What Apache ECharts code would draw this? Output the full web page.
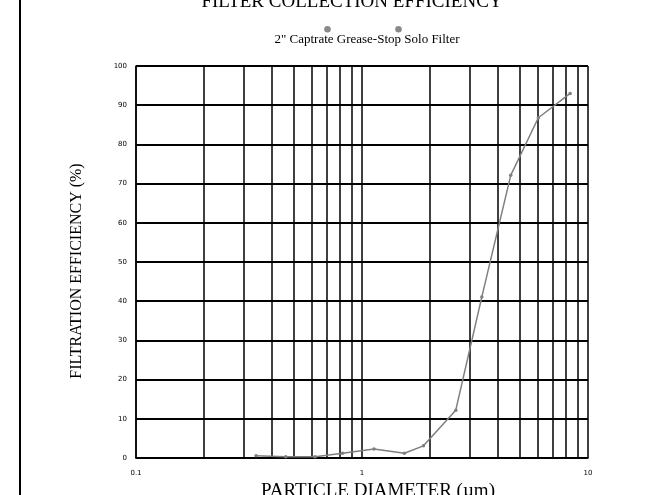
<!DOCTYPE html>
<html>
<head>
<meta charset="utf-8">
<script src="https://cdn.jsdelivr.net/npm/echarts@6/dist/echarts.min.js"></script>
<style>html,body{margin:0;padding:0;background:#fff;}#chart{width:651px;height:495px;}</style>
</head>
<body>
<div id="chart"></div>
<script>
const titleText = 'FILTER COLLECTION EFFICIENCY';
const subtitleText = '2" Captrate Grease-Stop Solo Filter';
const xAxisName = 'PARTICLE DIAMETER (µm)';
const yAxisName = 'FILTRATION EFFICIENCY (%)';
const diameters = [0.34, 0.46, 0.62, 0.82, 1.13, 1.54, 1.87, 2.6, 3.39, 4.55, 6.03, 8.34];
const efficiency = [0.6, 0.3, 0.3, 1.2, 2.3, 1.2, 3.1, 12.2, 41.1, 72.1, 86.8, 93.0];
const minorGridX = [0.2, 0.3, 0.4, 0.5, 0.6, 0.7, 0.8, 0.9, 2, 3, 4, 5, 6, 7, 8, 9];

const serif = '"Liberation Serif", "Times New Roman", serif';
const chart = echarts.init(document.getElementById('chart'), null, {renderer: 'canvas'});
chart.setOption({
  animation: false,
  backgroundColor: '#ffffff',
  title: [
    {text: titleText, left: 347, top: -12, textAlign: 'center',
     textStyle: {fontFamily: serif, fontSize: 19, fontWeight: 'normal', color: '#000'}},
    {text: subtitleText, left: 362, top: 28, textAlign: 'center',
     textStyle: {fontFamily: serif, fontSize: 13, fontWeight: 'normal', color: '#000'}}
  ],
  grid: {left: 136, right: 63, top: 66, bottom: 37, containLabel: false, outerBoundsMode: 'none'},
  xAxis: {
    type: 'log', logBase: 10, min: 0.1, max: 10,
    name: xAxisName, nameLocation: 'middle', nameGap: 20,
    nameTextStyle: {fontFamily: serif, fontSize: 19, color: '#000', padding: [0, 0, 0, 32]},
    axisLine: {show: true, lineStyle: {color: '#000', width: 1.5}},
    axisTick: {show: false},
    axisLabel: {fontFamily: '"DejaVu Sans", sans-serif', fontSize: 7, color: '#000', margin: 12,
      formatter: v => String(v)},
    splitLine: {show: true, lineStyle: {color: '#000', width: 1.5}}
  },
  yAxis: {
    type: 'value', min: 0, max: 100, interval: 10,
    name: yAxisName, nameLocation: 'middle', nameGap: 51, nameRotate: 90,
    nameTextStyle: {fontFamily: serif, fontSize: 16, color: '#000', padding: [0, 18, 0, 0]},
    axisLine: {show: true, lineStyle: {color: '#000', width: 1.5}},
    axisTick: {show: false},
    axisLabel: {fontFamily: '"DejaVu Sans", sans-serif', fontSize: 7, color: '#000', margin: 9},
    splitLine: {show: true, lineStyle: {color: '#000', width: 2}}
  },
  series: [{
    type: 'line',
    data: diameters.map((d, i) => [d, efficiency[i]]),
    smooth: false,
    symbol: 'circle', symbolSize: 3.5,
    itemStyle: {color: '#7f7f7f'},
    lineStyle: {color: '#7f7f7f', width: 1.5},
    z: 5,
    markLine: {
      silent: true, symbol: 'none', label: {show: false},
      lineStyle: {color: '#000', width: 1.5, type: 'solid'},
      data: minorGridX.map(v => ({xAxis: v}))
    }
  }],
  graphic: [
    {type: 'line', shape: {x1: 20, y1: 0, x2: 20, y2: 495}, style: {stroke: '#000', lineWidth: 2}},
    {type: 'circle', shape: {cx: 327.5, cy: 29.3, r: 3.3}, style: {fill: '#8a8a8a'}},
    {type: 'circle', shape: {cx: 398.5, cy: 29.3, r: 3.3}, style: {fill: '#8a8a8a'}}
  ]
});
</script>
</body>
</html>
